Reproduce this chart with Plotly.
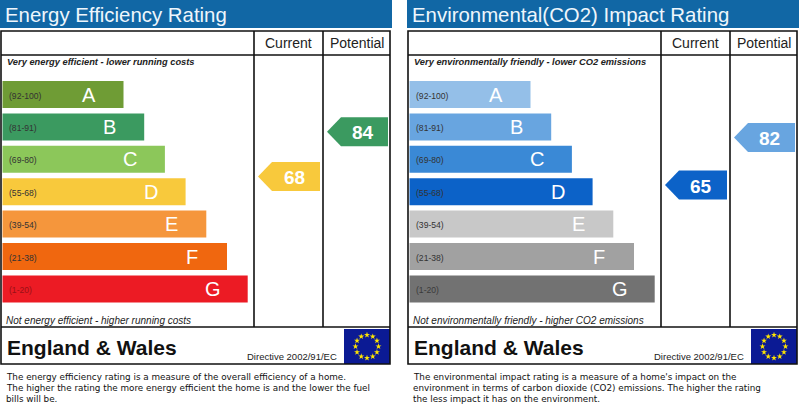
import math
import plotly.graph_objects as go

# ratings
bands = ["A", "B", "C", "D", "E", "F", "G"]
ranges = ["(92-100)", "(81-91)", "(69-80)", "(55-68)", "(39-54)", "(21-38)", "(1-20)"]
ee_colors = ["#6f9c35", "#3b9a60", "#8cc75a", "#f8c93c", "#f5963c", "#f0670f", "#ec1b24"]
co2_colors = ["#94bfe8", "#68a5e0", "#3a89d6", "#0c62c8", "#c8c8c8", "#a1a1a1", "#727272"]
range_colors_ee = ["#333333", "#333333", "#333333", "#333333", "#333333", "#333333", "#9a1016"]
range_colors_co2 = ["#333333", "#333333", "#333333", "#333333", "#333333", "#333333", "#3a3a3a"]

ee_current, ee_potential = 68, 84
co2_current, co2_potential = 65, 82

panels = [
    dict(ox=0, title="Energy Efficiency Rating", colors=ee_colors, rcol=range_colors_ee,
         top="Very energy efficient - lower running costs",
         bottom="Not energy efficient - higher running costs",
         current=ee_current, potential=ee_potential,
         desc=["The energy efficiency rating is a measure of the overall efficiency of a home.",
               "The higher the rating the more energy efficient the home is and the lower the fuel",
               "bills will be."]),
    dict(ox=407, title="Environmental(CO2) Impact Rating", colors=co2_colors, rcol=range_colors_co2,
         top="Very environmentally friendly - lower CO2 emissions",
         bottom="Not environmentally friendly - higher CO2 emissions",
         current=co2_current, potential=co2_potential,
         desc=["The environmental impact rating is a measure of a home's impact on the",
               "environment in terms of carbon dioxide (CO2) emissions. The higher the rating",
               "the less impact it has on the environment."]),
]


def val_to_y(v):
    return 367 - 2.8 * v


def band_color(colors, v):
    lows = [92, 81, 69, 55, 39, 21, 1]
    for c, lo in zip(colors, lows):
        if v >= lo:
            return c
    return colors[-1]


fig = go.Figure()
shapes = []
annos = []
ARIAL = "Liberation Sans, Arial"

for p in panels:
    ox = p["ox"]
    # title bar
    shapes.append(dict(type="rect", x0=ox, x1=ox + 392, y0=0, y1=28, fillcolor="#1167a5", line_width=0, layer="below"))
    annos.append(dict(x=ox + 3, y=15, text=p["title"], xanchor="left", yanchor="middle",
                      font=dict(family=ARIAL, size=20.4, color="#eef6fc"), showarrow=False))
    # frame
    blk = dict(color="#111111", width=1.6)
    shapes.append(dict(type="rect", x0=ox + 1, x1=ox + 390, y0=31, y1=364, line=blk))
    shapes.append(dict(type="line", x0=ox + 1, x1=ox + 390, y0=55, y1=55, line=blk))
    shapes.append(dict(type="line", x0=ox + 1, x1=ox + 390, y0=327, y1=327, line=blk))
    shapes.append(dict(type="line", x0=ox + 254, x1=ox + 254, y0=31, y1=327, line=blk))
    shapes.append(dict(type="line", x0=ox + 323, x1=ox + 323, y0=31, y1=327, line=blk))
    annos.append(dict(x=ox + 288.5, y=43, text="Current", showarrow=False,
                      font=dict(family=ARIAL, size=14, color="#222")))
    annos.append(dict(x=ox + 356.5, y=43, text="Potential", showarrow=False,
                      font=dict(family=ARIAL, size=14, color="#222")))
    annos.append(dict(x=ox + 5, y=62, text="<b><i>" + p["top"] + "</i></b>", xanchor="left", showarrow=False,
                      font=dict(family=ARIAL, size=9.3, color="#222")))
    annos.append(dict(x=ox + 4, y=320, text="<i>" + p["bottom"] + "</i>", xanchor="left", showarrow=False,
                      font=dict(family=ARIAL, size=10, color="#222")))

    # band bars
    ys = [94.5 + 32.4 * i for i in range(len(bands))]
    widths = [121 + 20.7 * i for i in range(len(bands))]
    fig.add_trace(go.Bar(orientation="h", y=ys, x=widths, base=ox + 2.5, width=27,
                         marker=dict(color=p["colors"], line_width=0), hoverinfo="skip", showlegend=False))
    for b, r, y, w, rc in zip(bands, ranges, ys, widths, p["rcol"]):
        annos.append(dict(x=ox + 2.5 + w - 35, y=y, text=b, showarrow=False,
                          font=dict(family=ARIAL, size=20, color="white")))
        annos.append(dict(x=ox + 7, y=y + 1, text=r, xanchor="left", showarrow=False,
                          font=dict(family=ARIAL, size=8.6, color=rc)))

    # arrows
    for v, x0, x1 in [(p["current"], ox + 258, ox + 320), (p["potential"], ox + 327, ox + 388)]:
        yc = val_to_y(v)
        h = 14.5
        tip = 14
        col = band_color(p["colors"], v)
        fig.add_trace(go.Scatter(x=[x0, x0 + tip, x1, x1, x0 + tip, x0],
                                 y=[yc, yc - h, yc - h, yc + h, yc + h, yc],
                                 fill="toself", fillcolor=col, mode="lines", line=dict(width=0, color=col),
                                 hoverinfo="skip", showlegend=False))
        annos.append(dict(x=(x0 + tip + x1) / 2 - 2, y=yc + 1, text="<b>%d</b>" % v, showarrow=False,
                          font=dict(family=ARIAL, size=19, color="white")))

    # footer
    annos.append(dict(x=ox + 5, y=347, text="<b>England & Wales</b>", xanchor="left", showarrow=False,
                      font=dict(family=ARIAL, size=21, color="#111")))
    annos.append(dict(x=ox + 339, y=356, text="Directive 2002/91/EC", xanchor="right", showarrow=False,
                      font=dict(family=ARIAL, size=9.5, color="#222")))
    shapes.append(dict(type="rect", x0=ox + 344, x1=ox + 390, y0=329, y1=364, fillcolor="#0b1a94",
                       line_width=0, layer="below"))
    cx, cy = ox + 367, 346.5
    sx = [cx + 11.5 * math.cos(k * math.pi / 6) for k in range(12)]
    sy = [cy + 11.5 * math.sin(k * math.pi / 6) for k in range(12)]
    fig.add_trace(go.Scatter(x=sx, y=sy, mode="markers", marker=dict(symbol="star", size=4.5, color="#ffe500"),
                             hoverinfo="skip", showlegend=False))

    # description
    for i, line in enumerate(p["desc"]):
        annos.append(dict(x=ox + 4, y=377 + 11 * i, text=line, xanchor="left", showarrow=False,
                          font=dict(family="DejaVu Sans", size=8.8, color="#111")))

fig.update_layout(
    width=800, height=410, margin=dict(l=0, r=0, t=0, b=0),
    paper_bgcolor="white", plot_bgcolor="white",
    xaxis=dict(range=[0, 800], visible=False, fixedrange=True),
    yaxis=dict(range=[410, 0], visible=False, fixedrange=True),
    barmode="overlay", shapes=shapes, annotations=annos,
)
fig.write_html("out.html", config={"displayModeBar": False},
               post_script="document.body.style.margin='0';")
